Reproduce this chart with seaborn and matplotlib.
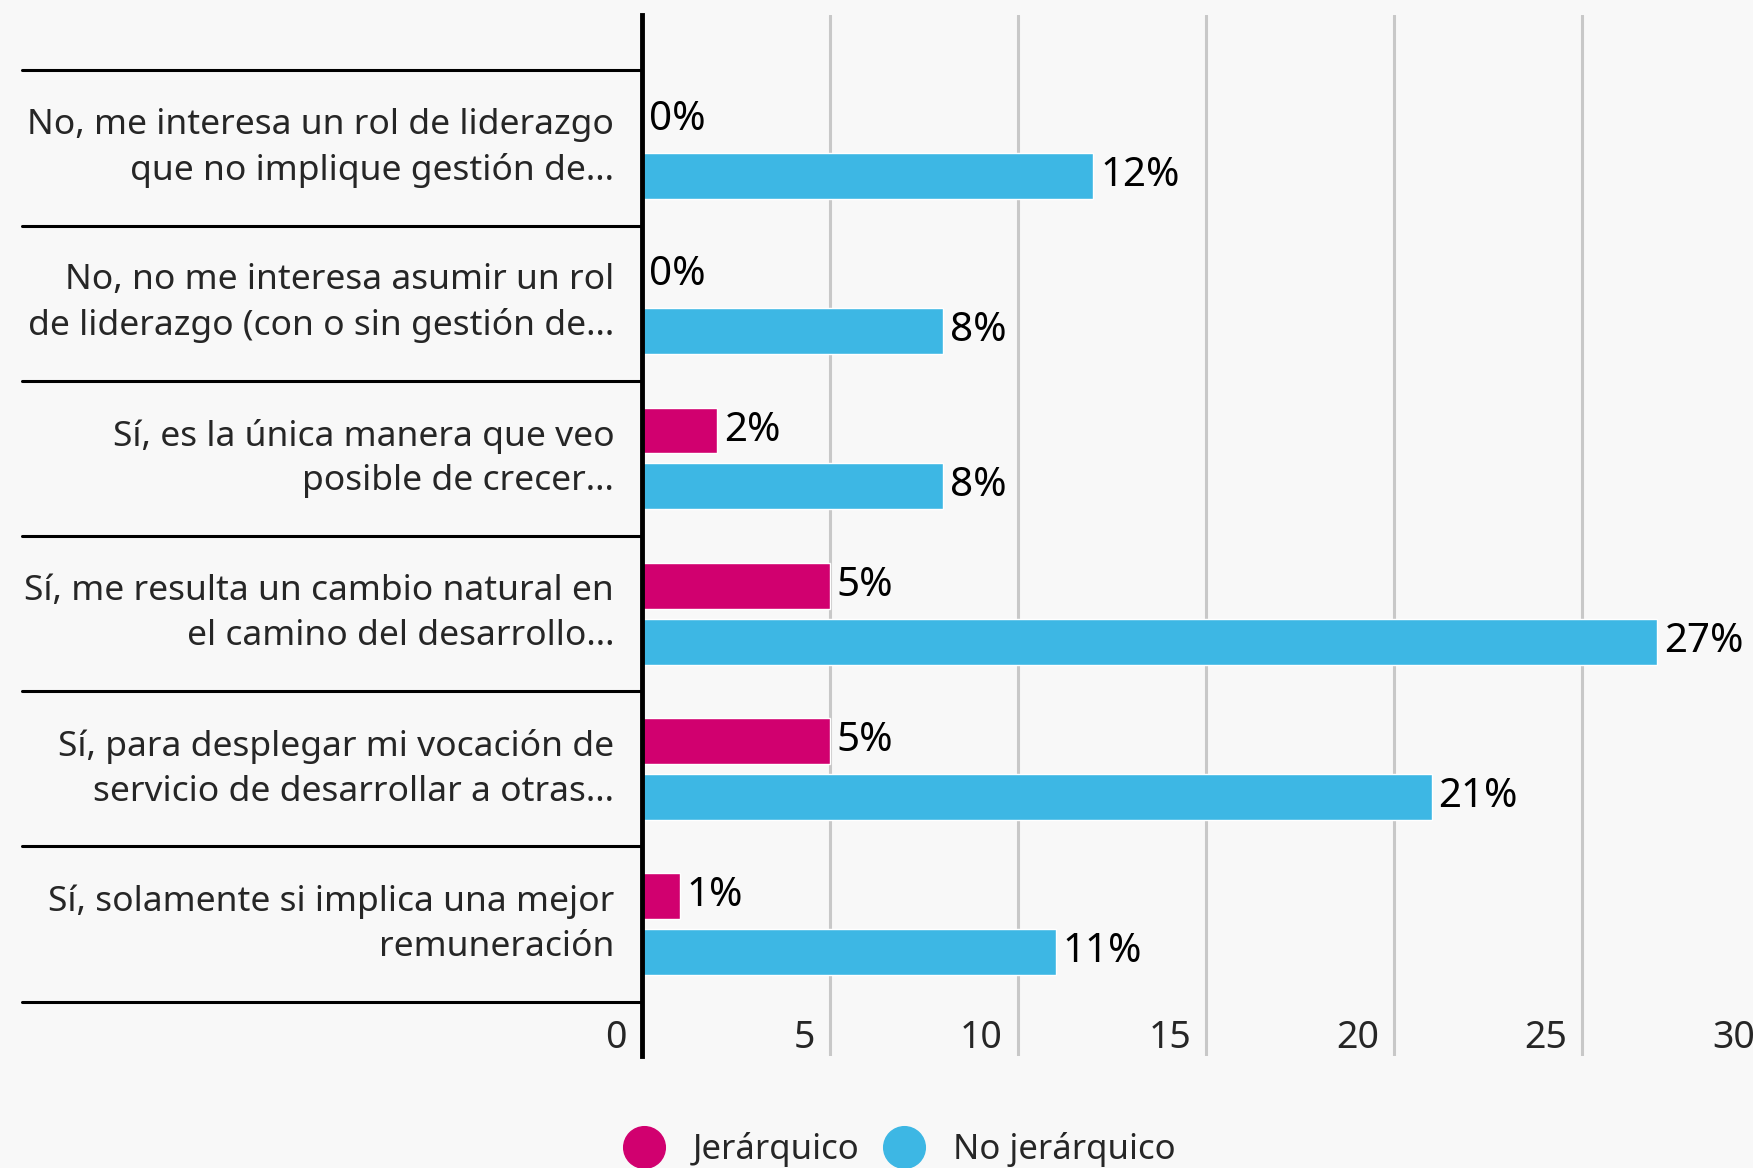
import numpy as np
import pandas as pd
import seaborn as sns
import matplotlib.pyplot as plt
from matplotlib.lines import Line2D
from matplotlib.transforms import ScaledTranslation

categories = [
    "No, me interesa un rol de liderazgo\nque no implique gestión de...",
    "No, no me interesa asumir un rol\nde liderazgo (con o sin gestión de...",
    "Sí, es la única manera que veo\nposible de crecer...",
    "Sí, me resulta un cambio natural en\nel camino del desarrollo...",
    "Sí, para desplegar mi vocación de\nservicio de desarrollar a otras...",
    "Sí, solamente si implica una mejor\nremuneración",
]
jerarquico = [0, 0, 2, 5, 5, 1]
no_jerarquico = [12, 8, 8, 27, 21, 11]
series_names = ["Jerárquico", "No jerárquico"]
colors = ["#d1006f", "#3db7e4"]
x_ticks = [0, 5, 10, 15, 20, 25, 30]

df = pd.DataFrame({
    "categoria": categories * 2,
    "valor": jerarquico + no_jerarquico,
    "grupo": [series_names[0]] * 6 + [series_names[1]] * 6,
})

sns.set_theme(style="white")
plt.rcParams["font.family"] = ["Noto Sans", "DejaVu Sans"]
bg = "#f8f8f8"

fig = plt.figure(figsize=(17.53, 11.68), dpi=100, facecolor=bg)
ax = fig.add_axes([0.3662, 0.0955, 0.6435, 0.892])
ax.set_facecolor(bg)

sns.barplot(data=df, x="valor", y="categoria", hue="grupo", orient="h",
            palette=colors, width=0.72, gap=0.18, saturation=1,
            legend=False, ax=ax, zorder=3)

for cont in ax.containers:
    vals = cont.datavalues
    ax.bar_label(cont, labels=[f"{v:.0f}%" for v in vals], padding=5,
                 fontsize=29, color="black")

ax.set_xlim(0, 30)
ax.set_ylim(5.853, -0.86)
ax.set_xticks(x_ticks)
ax.set_xticklabels([str(t) for t in x_ticks])
ax.xaxis.grid(True, color="#c8c8c8", linewidth=2.2, zorder=0)
ax.yaxis.grid(False)
ax.set_xlabel("")
ax.set_ylabel("")

for s in ["top", "right", "bottom"]:
    ax.spines[s].set_visible(False)
ax.spines["left"].set_color("black")
ax.spines["left"].set_linewidth(3.5)
ax.spines["left"].set_zorder(5)

ax.tick_params(axis="y", length=0, pad=20, labelsize=25.5)
ax.tick_params(axis="x", length=0, pad=-27, labelsize=27)
for lbl in ax.get_yticklabels():
    lbl.set_ha("right")
    lbl.set_va("center")
    lbl.set_multialignment("right")
    lbl.set_linespacing(1.42)
off = ScaledTranslation(-0.15, 0, fig.dpi_scale_trans)
for lbl in ax.get_xticklabels():
    lbl.set_ha("right")
    lbl.set_transform(lbl.get_transform() + off)

# separators between categories
for b in np.arange(-0.5, 6, 1):
    ax.plot([-0.55, 0], [b, b], transform=ax.get_yaxis_transform(),
            color="black", linewidth=2.2, clip_on=False, zorder=5)

handles = [Line2D([], [], marker="o", linestyle="", markersize=30,
                  markerfacecolor=c, markeredgecolor=c) for c in colors]
fig.legend(handles, series_names, loc="center", bbox_to_anchor=(0.514, 0.016),
           ncol=2, frameon=False, fontsize=25, handletextpad=0.9,
           columnspacing=0.8, handlelength=1.0)

fig.savefig("out.png", dpi=100, facecolor=bg)
